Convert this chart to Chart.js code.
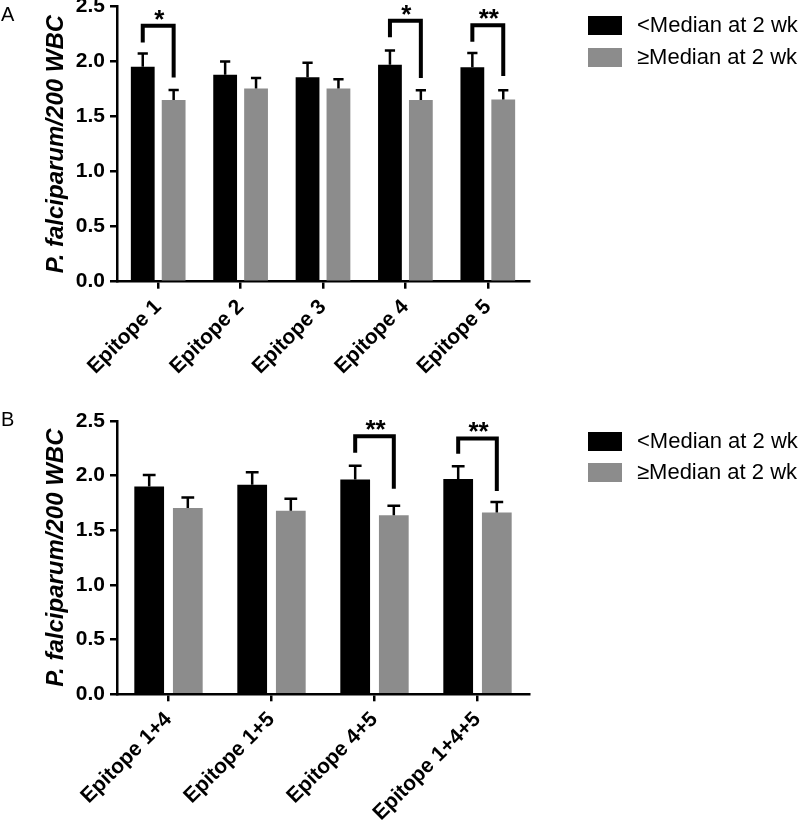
<!DOCTYPE html>
<html>
<head>
<meta charset="utf-8">
<script src="https://cdn.jsdelivr.net/npm/chart.js@4/dist/chart.umd.min.js"></script>
<style>
  html, body { margin: 0; padding: 0; background: #fff; }
  canvas { position: absolute; left: 0; }
  #cA { top: 0; }
  #cB { top: 411px; }
</style>
</head>
<body>
<canvas id="cA" width="800" height="411"></canvas>
<canvas id="cB" width="800" height="411"></canvas>
<script>
// ---------- DATA ----------
const seriesLabels = ['<Median at 2 wk', '\u2265Median at 2 wk'];
const yTickValues = [0, 0.5, 1.0, 1.5, 2.0, 2.5];
const yTitle = 'P. falciparum/200 WBC';

// Panel A
const categoriesA = ['Epitope 1', 'Epitope 2', 'Epitope 3', 'Epitope 4', 'Epitope 5'];
const belowA = [1.953, 1.88, 1.857, 1.97, 1.947];
const belowSemA = [0.121, 0.12, 0.133, 0.13, 0.13];
const aboveA = [1.65, 1.755, 1.755, 1.65, 1.655];
const aboveSemA = [0.091, 0.095, 0.085, 0.09, 0.085];
const sigIndexA = [0, 3, 4];
const sigLabelA = ['*', '*', '**'];
const sigTopA = [2.325, 2.37, 2.33];
const sigLeftEndA = [2.174, 2.22, 2.18];
const sigRightEndA = [1.856, 1.85, 1.868];

// Panel B
const categoriesB = ['Epitope 1+4', 'Epitope 1+5', 'Epitope 4+5', 'Epitope 1+4+5'];
const belowB = [1.90, 1.917, 1.965, 1.97];
const belowSemB = [0.105, 0.115, 0.125, 0.115];
const aboveB = [1.704, 1.68, 1.637, 1.662];
const aboveSemB = [0.096, 0.109, 0.088, 0.097];
const sigIndexB = [2, 3];
const sigLabelB = ['**', '**'];
const sigTopB = [2.36, 2.34];
const sigLeftEndB = [2.21, 2.20];
const sigRightEndB = [1.88, 1.86];

// ---------- STYLE ----------
const FONT = "'Liberation Sans', Arial, Helvetica, sans-serif";
const BLACK = '#000000';
const GRAY = '#8c8c8c';

const decoPlugin = {
  id: 'deco',
  afterDatasetsDraw(chart, args, opts) {
    const ctx = chart.ctx;
    const y = chart.scales.y;
    ctx.save();
    // error bars (upper SEM)
    chart.data.datasets.forEach((ds, di) => {
      const meta = chart.getDatasetMeta(di);
      meta.data.forEach((bar, i) => {
        const top = y.getPixelForValue(ds.data[i] + ds.sem[i]);
        const cap = bar.width * 0.43;
        ctx.strokeStyle = BLACK;
        ctx.lineWidth = 2.5;
        ctx.lineCap = 'butt';
        ctx.beginPath();
        ctx.moveTo(bar.x, bar.y);
        ctx.lineTo(bar.x, top);
        ctx.moveTo(bar.x - cap / 2, top);
        ctx.lineTo(bar.x + cap / 2, top);
        ctx.stroke();
      });
    });
    // significance brackets
    const m0 = chart.getDatasetMeta(0), m1 = chart.getDatasetMeta(1);
    opts.sig.index.forEach((ci, k) => {
      const xl = m0.data[ci].x, xr = m1.data[ci].x;
      const yt = y.getPixelForValue(opts.sig.top[k]);
      const yl = y.getPixelForValue(opts.sig.left[k]);
      const yr = y.getPixelForValue(opts.sig.right[k]);
      ctx.strokeStyle = BLACK;
      ctx.lineWidth = 4;
      ctx.lineJoin = 'miter';
      ctx.beginPath();
      ctx.moveTo(xl, yl);
      ctx.lineTo(xl, yt);
      ctx.lineTo(xr, yt);
      ctx.lineTo(xr, yr);
      ctx.stroke();
      ctx.fillStyle = BLACK;
      ctx.font = 'bold 26px ' + FONT;
      ctx.textAlign = 'center';
      ctx.textBaseline = 'alphabetic';
      ctx.fillText(opts.sig.label[k], (xl + xr) / 2 + 1, yt + 2);
    });
    ctx.restore();
  },
  afterDraw(chart, args, opts) {
    const ctx = chart.ctx;
    ctx.save();
    // panel letter
    ctx.fillStyle = BLACK;
    ctx.font = '20px ' + FONT;
    ctx.textAlign = 'left';
    ctx.textBaseline = 'alphabetic';
    ctx.fillText(opts.letter, 1, opts.letterY);
    // legend
    chart.data.datasets.forEach((ds, di) => {
      const by = opts.legendY[di];
      ctx.fillStyle = ds.backgroundColor;
      ctx.fillRect(588, by, 34, 19);
      ctx.fillStyle = BLACK;
      ctx.font = '22px ' + FONT;
      ctx.textAlign = 'left';
      ctx.textBaseline = 'middle';
      ctx.fillText(ds.label, 637, by + 10);
    });
    ctx.restore();
  }
};

function makeChart(id, cats, below, belowSem, above, aboveSem, sig, pad, xH, letter, letterY, legendY) {
  return new Chart(document.getElementById(id), {
    type: 'bar',
    data: {
      labels: cats,
      datasets: [
        { label: seriesLabels[0], data: below, sem: belowSem, backgroundColor: BLACK,
          categoryPercentage: 0.75, barPercentage: 0.77 },
        { label: seriesLabels[1], data: above, sem: aboveSem, backgroundColor: GRAY,
          categoryPercentage: 0.75, barPercentage: 0.77 }
      ]
    },
    options: {
      responsive: false,
      animation: false,
      devicePixelRatio: 1,
      layout: { padding: pad },
      plugins: {
        legend: { display: false },
        tooltip: { enabled: false },
        deco: { sig: sig, letter: letter, letterY: letterY, legendY: legendY }
      },
      scales: {
        x: {
          offset: true,
          grid: { display: true, offset: false, drawOnChartArea: false, drawTicks: true,
                  tickLength: 7, tickWidth: 2.5, tickColor: BLACK, color: BLACK, lineWidth: 2.5 },
          border: { display: true, color: BLACK, width: 2.5 },
          ticks: { color: BLACK, font: { family: FONT, size: 21, weight: 'bold' },
                   minRotation: 45, maxRotation: 45, padding: 6 },
          afterFit(s) { s.height = xH; s.paddingLeft = 0; s.paddingRight = 0; }
        },
        y: {
          min: 0, max: 2.5,
          afterBuildTicks(s) { s.ticks = yTickValues.map(v => ({ value: v })); },
          grid: { display: true, drawOnChartArea: false, drawTicks: true,
                  tickLength: 7, tickWidth: 2.5, tickColor: BLACK, color: BLACK, lineWidth: 2.5 },
          border: { display: true, color: BLACK, width: 2.5 },
          ticks: { color: BLACK, font: { family: FONT, size: 21, weight: 'bold' }, padding: 5,
                   callback: v => Number(v).toFixed(1) },
          title: { display: true, text: yTitle, color: BLACK,
                   font: { family: FONT, size: 24, weight: 'bold', style: 'italic' },
                   padding: { top: 42, bottom: 0 } },
          afterFit(s) { s.width = 117; s.paddingTop = 0; s.paddingBottom = 0; }
        }
      }
    },
    plugins: [decoPlugin]
  });
}

makeChart('cA', categoriesA, belowA, belowSemA, aboveA, aboveSemA,
  { index: sigIndexA, label: sigLabelA, top: sigTopA, left: sigLeftEndA, right: sigRightEndA },
  { left: 0, right: 271, top: 6.5, bottom: 0 }, 411 - 281.7, 'A', 21, [16, 48]);

makeChart('cB', categoriesB, belowB, belowSemB, aboveB, aboveSemB,
  { index: sigIndexB, label: sigLabelB, top: sigTopB, left: sigLeftEndB, right: sigRightEndB },
  { left: 0, right: 271, top: 10, bottom: 0 }, 411 - 283.3, 'B', 15, [21, 52]);
</script>
</body>
</html>
